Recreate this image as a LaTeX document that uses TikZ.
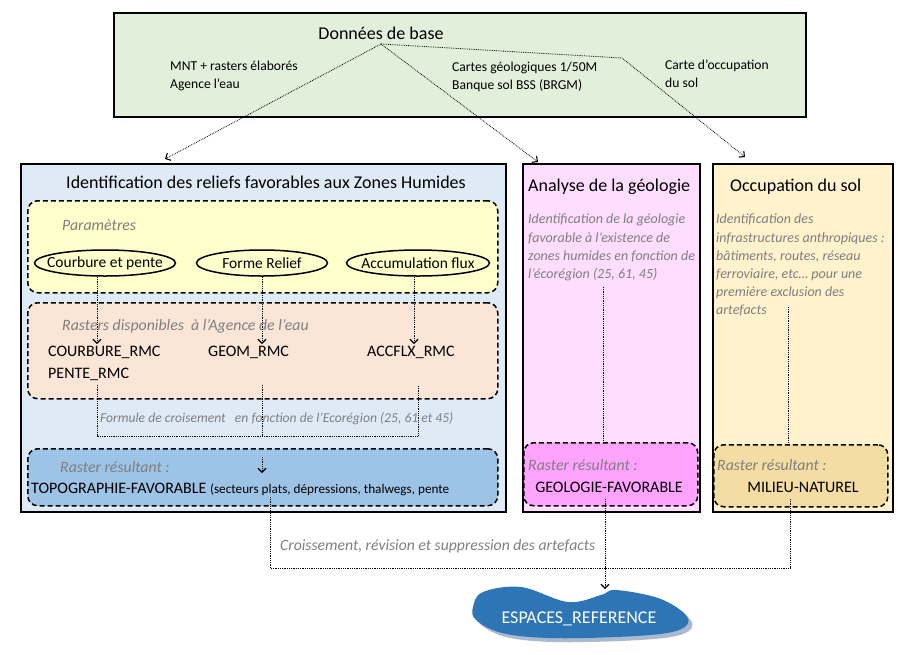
\documentclass[tikz,border=0pt]{standalone}
\usepackage{fontspec}
\setmainfont{Carlito}
\usetikzlibrary{positioning,shapes.geometric,arrows.meta}
\definecolor{vertbase}{HTML}{E2EFDA}
\definecolor{bleuzone}{HTML}{DEEBF7}
\definecolor{jauneparam}{HTML}{FFFFCC}
\definecolor{saumon}{HTML}{FBE5D6}
\definecolor{bleuresult}{HTML}{9DC3E6}
\definecolor{rosegeo}{HTML}{FFDDFF}
\definecolor{rosefonce}{HTML}{FFA3FF}
\definecolor{creme}{HTML}{FFF2CC}
\definecolor{beige}{HTML}{F4DDA2}
\definecolor{bleuref}{HTML}{2E75B6}
\definecolor{ombre}{HTML}{A8B9D0}
\definecolor{grisnote}{HTML}{7F7F7F}
\tikzset{
 cadre/.style={draw=black,line width=1.6pt,inner sep=0pt,anchor=north west},
 zone/.style={draw=black,line width=1.5pt,dash pattern=on 5pt off 3pt,rounded corners=10pt,inner sep=0pt,anchor=north west},
 param/.style={ellipse,draw=black,line width=1.5pt,minimum height=26pt,inner sep=0pt,font=\fontsize{15.5}{16}\selectfont},
 note/.style={font=\fontsize{14}{18.2}\selectfont\itshape,text=grisnote,align=left,inner sep=0pt},
 legende/.style={font=\fontsize{15.8}{16}\selectfont\itshape,text=grisnote,inner sep=0pt},
 texte/.style={font=\fontsize{16}{16}\selectfont,inner sep=0pt},
 petit/.style={font=\fontsize{13.6}{18}\selectfont,align=left,inner sep=0pt},
 titre/.style={font=\fontsize{18}{18}\selectfont,inner sep=0pt},
 lien/.style={densely dotted,line width=0.8pt},
 fleche/.style={lien,-{Straight Barb[length=4pt,width=8pt,line width=1.1pt]}},
}
\begin{document}
\begin{tikzpicture}[x=1pt,y=-1pt]
\useasboundingbox (0,0) rectangle (901,654);
\node[cadre,fill=vertbase,minimum width=692pt,minimum height=104pt] (base) at (113,12) {};
\node[cadre,fill=bleuzone,minimum width=485pt,minimum height=348pt] (relief) at (20,163) {};
\node[cadre,fill=rosegeo,minimum width=177pt,minimum height=348pt] (geologie) at (522,163) {};
\node[cadre,fill=creme,minimum width=180pt,minimum height=348pt] (sol) at (712,163) {};
\node[zone,fill=jauneparam,minimum width=470pt,minimum height=92pt] (parametres) at (27,200) {};
\node[zone,fill=saumon,minimum width=470pt,minimum height=96pt] (rasters) at (27,302) {};
\node[zone,fill=bleuresult,minimum width=470pt,minimum height=57pt] (topores) at (27,448) {};
\node[zone,fill=rosefonce,minimum width=174pt,minimum height=63pt] (georos) at (523,442) {};
\node[zone,fill=beige,minimum width=174pt,minimum height=62pt] (solres) at (713,444) {};

\node[titre] (tbase) at (381,33) {Données de base};
\node[petit,anchor=west] (mnt) at (170,76) {MNT + rasters élaborés\\Agence l’eau};
\node[petit,anchor=west] (cartes) at (452,77) {Cartes géologiques 1/50M\\Banque sol BSS (BRGM)};
\node[petit,anchor=west] (occup) at (665,74) {Carte d’occupation\\du sol};

\node[titre] (trelief) at (266,182) {Identification des reliefs favorables aux Zones Humides};
\node[titre,anchor=west] (tgeo) at (528,187) {Analyse de la géologie};
\node[titre,anchor=west] (tsol) at (730,187) {Occupation du sol};

\node[legende,anchor=west] (lparam) at (62,225) {Paramètres};
\node[param,minimum width=141pt] (courbure) at (105,263) {\makebox[0pt]{Courbure et pente}};
\node[param,minimum width=131pt] (forme) at (262,263) {\makebox[0pt]{Forme Relief}};
\node[param,minimum width=143pt] (accum) at (418,263) {\makebox[0pt]{Accumulation flux}};

\node[legende,anchor=west] (lrasters) at (62,326) {Rasters disponibles\ \ à l’Agence de l’eau};
\node[texte,anchor=west] (courbureR) at (48,352) {COURBURE\_RMC};
\node[texte,anchor=west] (penteR) at (48,374) {PENTE\_RMC};
\node[texte,anchor=west] (geomR) at (208,352) {GEOM\_RMC};
\node[texte,anchor=west] (accR) at (367,352) {ACCFLX\_RMC};
\node[note,font=\fontsize{13.6}{16}\selectfont\itshape,anchor=west] (formule) at (100,419) {Formule de croisement\ \ \ en fonction de l’Ecorégion (25, 61 et 45)};

\node[legende,anchor=west] (lres1) at (60,467) {Raster résultant :};
\node[texte,anchor=west] (topo) at (31,489) {TOPOGRAPHIE-FAVORABLE\ {\fontsize{13.2}{16}\selectfont(secteurs plats, dépressions, thalwegs, pente}};

\node[note,anchor=north west] (ngeo) at (528,214) {Identification de la géologie\\favorable à l’existence de\\zones humides en fonction de\\l’écorégion (25, 61, 45)};
\node[legende,anchor=west] (lres2) at (528,465) {Raster résultant :};
\node[texte] (geofav) at (609,487) {GEOLOGIE-FAVORABLE};

\node[note,anchor=north west] (nsol) at (716,214) {Identification des\\infrastructures anthropiques :\\bâtiments, routes, réseau\\ferroviaire, etc… pour une\\première exclusion des\\artefacts};
\node[legende,anchor=west] (lres3) at (717,465) {Raster résultant :};
\node[texte] (milieu) at (803,487) {MILIEU-NATUREL};

\node[legende,font=\fontsize{15.7}{16}\selectfont\itshape,anchor=west] (croisement) at (280,546) {Croissement, révision et suppression des artefacts};

\fill[ombre] plot[smooth cycle,tension=0.6] coordinates {(487,596) (525,591) (572,606) (605,599) (620,594) (662,602) (688,617) (691,629) (671,637) (620,641) (553,642) (506,637) (480,624) (477,611)};
\fill[bleuref] plot[smooth cycle,tension=0.6] coordinates {(483,592) (521,587) (568,602) (601,595) (616,590) (658,598) (684,613) (687,625) (667,633) (616,637) (549,638) (502,633) (476,620) (473,607)};
\node[texte,font=\fontsize{18}{18}\selectfont,text=white] (ref) at (579,619) {ESPACES\_REFERENCE};

\coordinate (sommet) at (381,44);
\coordinate (coude) at (622,58);
\coordinate (pRelief) at (165,159);
\coordinate (pGeo) at (538,162);
\coordinate (pSol) at (745,157);
\draw[fleche] (sommet) -- (pRelief);
\draw[fleche] (sommet) -- (pGeo);
\draw[fleche] (sommet) -- (coude) -- (pSol);

\foreach \e/\x in {courbure/97,forme/262,accum/414}{
\draw[fleche] (\x,277) -- (\x,344);
}
\coordinate (dC) at (97,385);
\coordinate (dG) at (262,385);
\coordinate (dA) at (418,385);
\coordinate (jC) at (97,436);
\coordinate (jG) at (262,436);
\coordinate (jA) at (418,436);
\draw[lien] (dC) -- (jC) -- (jA) -- (dA);
\draw[lien] (dG) -- (jG);
\coordinate (hT) at (262,457);
\coordinate (bT) at (262,473);
\draw[fleche] (hT) -- (bT);

\draw[lien] (603,287) -- (georos.north -| 603,0);
\draw[lien] (788,307) -- (solres.north -| 788,0);

\coordinate (sT) at (270,497);
\coordinate (sG) at (605,499);
\coordinate (sS) at (790,499);
\coordinate (cT) at (270,568);
\coordinate (cG) at (605,568);
\coordinate (cS) at (790,568);
\coordinate (pRef) at (605,589);
\draw[lien] (sT) -- (cT) -- (cG);
\draw[lien] (sS) -- (cS) -- (cG);
\draw[fleche] (sG) -- (pRef);
\end{tikzpicture}
\end{document}
